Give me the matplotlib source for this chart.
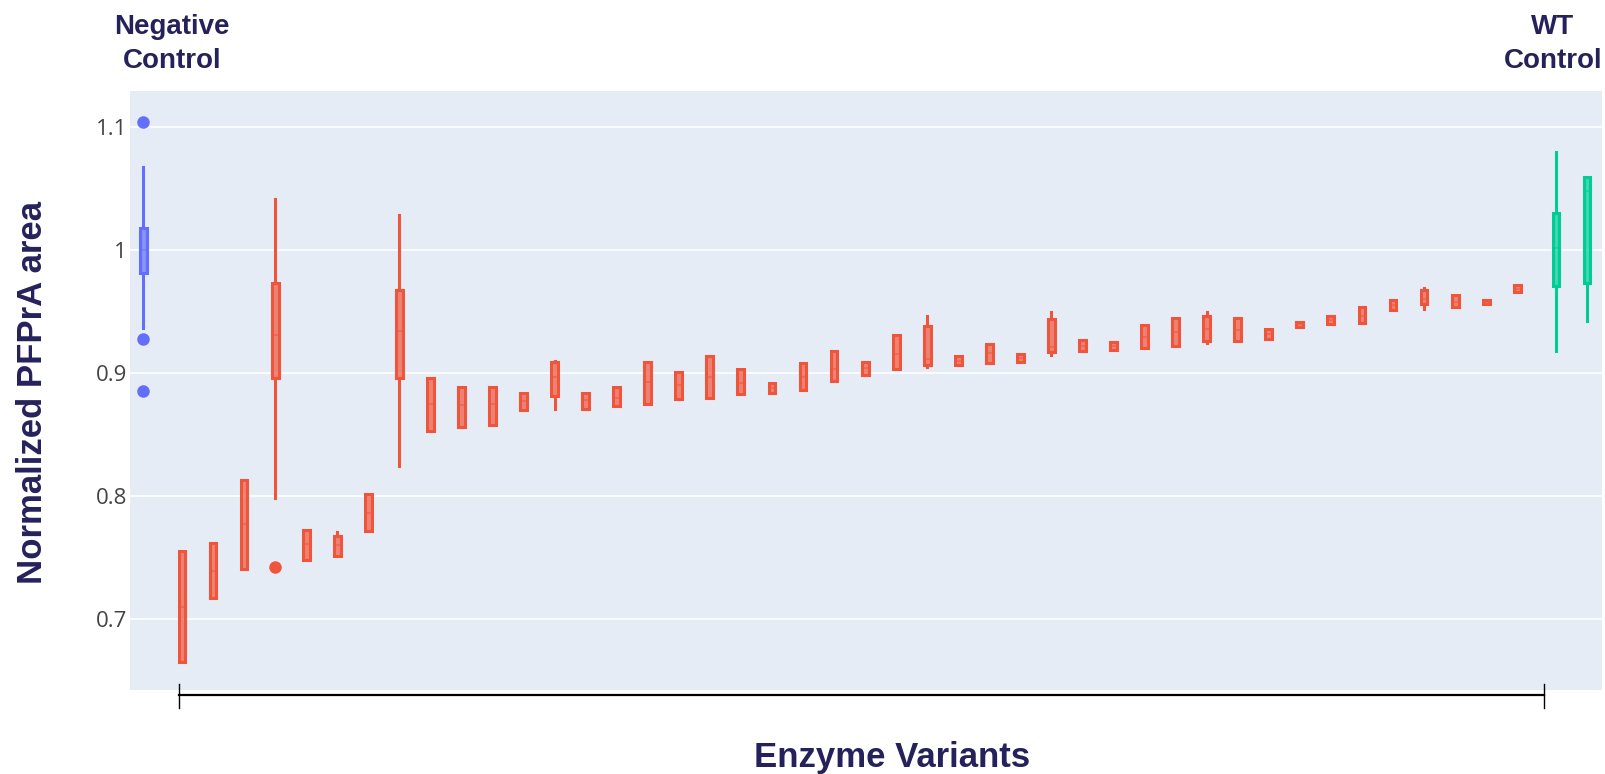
import matplotlib
matplotlib.use("Agg")
import matplotlib.pyplot as plt
import matplotlib.transforms as mtransforms
from matplotlib.colors import to_rgba

# %% data
neg_lo, neg_q1, neg_med, neg_q3, neg_hi = 0.9365, 0.981, 1.0, 1.0176, 1.0676
neg_fliers = [1.104, 0.928, 0.885]

red_q1 = [0.6651, 0.717, 0.741, 0.896, 0.748, 0.7516, 0.772, 0.896, 0.8527, 0.856,
          0.858, 0.870, 0.881, 0.871, 0.873, 0.875, 0.879, 0.880, 0.8826, 0.884,
          0.8866, 0.8935, 0.898, 0.9035, 0.9068, 0.9063, 0.9082, 0.909, 0.917, 0.918,
          0.919, 0.9207, 0.9223, 0.926, 0.926, 0.928, 0.9377, 0.9396, 0.9404, 0.9514,
          0.956, 0.9533, 0.9557, 0.9656]
red_med = [0.7103, 0.7395, 0.7773, 0.931, 0.761, 0.760, 0.7865, 0.934, 0.8746, 0.874,
           0.875, 0.877, 0.897, 0.878, 0.880, 0.893, 0.890, 0.897, 0.892, 0.888,
           0.897, 0.903, 0.904, 0.9156, 0.911, 0.910, 0.916, 0.912, 0.921, 0.922,
           0.922, 0.9293, 0.9334, 0.936, 0.935, 0.932, 0.9396, 0.943, 0.9467, 0.9555,
           0.960, 0.958, 0.9577, 0.968]
red_q3 = [0.7557, 0.7622, 0.813, 0.973, 0.7724, 0.7678, 0.8014, 0.9676, 0.896, 0.889,
          0.889, 0.884, 0.909, 0.884, 0.889, 0.909, 0.9005, 0.914, 0.9035, 0.892,
          0.908, 0.918, 0.909, 0.9306, 0.938, 0.9136, 0.9239, 0.9158, 0.9435, 0.9272,
          0.9253, 0.9386, 0.9448, 0.9462, 0.9443, 0.9355, 0.9415, 0.9464, 0.9533, 0.9596,
          0.9672, 0.9637, 0.9596, 0.9713]
red_lo = [0.6651, 0.717, 0.741, 0.7986, 0.748, 0.7516, 0.772, 0.8243, 0.8527, 0.856,
          0.858, 0.870, 0.871, 0.871, 0.873, 0.875, 0.879, 0.880, 0.8826, 0.884,
          0.8866, 0.8935, 0.898, 0.9035, 0.905, 0.9063, 0.9082, 0.909, 0.915, 0.918,
          0.919, 0.9207, 0.9223, 0.9245, 0.926, 0.928, 0.9377, 0.9396, 0.9404, 0.9514,
          0.9522, 0.9533, 0.9557, 0.9656]
red_hi = [0.7557, 0.7622, 0.813, 1.0414, 0.7724, 0.771, 0.8014, 1.0284, 0.896, 0.889,
          0.889, 0.884, 0.910, 0.884, 0.889, 0.909, 0.9005, 0.914, 0.9035, 0.892,
          0.908, 0.918, 0.909, 0.9306, 0.946, 0.9136, 0.9239, 0.9158, 0.9497, 0.9272,
          0.9253, 0.9386, 0.9448, 0.9497, 0.9443, 0.9355, 0.9415, 0.9464, 0.9533, 0.9596,
          0.9691, 0.9637, 0.9596, 0.9713]
red_fliers = {4: [0.7427]}

wt_lo = [0.918, 0.9423]
wt_q1 = [0.9705, 0.9727]
wt_med = [1.0014, 1.048]
wt_q3 = [1.030, 1.0593]
wt_hi = [1.0792, 1.0593]

y_ticks = [0.7, 0.8, 0.9, 1.0, 1.1]
y_labels = ["0.7", "0.8", "0.9", "1", "1.1"]

# %% style
BLUE, RED, GREEN = "#636EFA", "#EF553B", "#00CC96"
NAVY = "#25215B"
plt.rcParams["font.family"] = ["Liberation Sans", "DejaVu Sans"]

fig = plt.figure(figsize=(16.06, 7.74), dpi=100)
ax = fig.add_axes([0.0809, 0.1085, 0.9164, 0.7733])
ax.set_facecolor("#E5ECF6")


def draw(stats, positions, color):
    ax.bxp(stats, positions=positions, widths=0.22, patch_artist=True,
           showcaps=False, manage_ticks=False,
           boxprops=dict(facecolor=to_rgba(color, 0.7), edgecolor=color, linewidth=2.2),
           medianprops=dict(color=color, linewidth=1.2, alpha=0.6),
           whiskerprops=dict(color=color, linewidth=2.2),
           flierprops=dict(marker="o", markerfacecolor=color, markeredgecolor="none",
                           markersize=9))


# negative control (offset left in its group slot)
draw([dict(whislo=neg_lo, q1=neg_q1, med=neg_med, q3=neg_q3, whishi=neg_hi,
           fliers=neg_fliers)], [-0.25], BLUE)

# enzyme variants
red_stats = []
for i in range(len(red_q1)):
    red_stats.append(dict(whislo=red_lo[i], q1=red_q1[i], med=red_med[i], q3=red_q3[i],
                          whishi=red_hi[i], fliers=red_fliers.get(i + 1, [])))
draw(red_stats, list(range(1, len(red_q1) + 1)), RED)

# WT controls (offset right)
wt_stats = [dict(whislo=wt_lo[i], q1=wt_q1[i], med=wt_med[i], q3=wt_q3[i],
                 whishi=wt_hi[i], fliers=[]) for i in range(len(wt_q1))]
draw(wt_stats, [len(red_q1) + 1.25, len(red_q1) + 2.25], GREEN)

ax.set_xlim(-0.675, 46.72)
ax.set_ylim(0.6426, 1.1286)
ax.set_xticks([])
ax.set_yticks(y_ticks)
ax.set_yticklabels(y_labels)
ax.tick_params(axis="y", length=0, pad=2, labelsize=16, labelcolor="#444444")
for lab in ax.get_yticklabels():
    lab.set_family(["Open Sans", "DejaVu Sans"])
ax.grid(axis="y", color="white", linewidth=1.2)
ax.set_axisbelow(True)
for s in ax.spines.values():
    s.set_visible(False)

# bracket under the variants
trans = mtransforms.blended_transform_factory(ax.transData, ax.transAxes)
bx = [0.9, 44.86]
ax.plot(bx, [-0.0084, -0.0084], color="black", lw=1.6, transform=trans, clip_on=False)
for x in bx:
    ax.plot([x, x], [0.01, -0.03], color="black", lw=1.0, transform=trans, clip_on=False)

# labels
fig.text(171.7 / 1606, 1 - 44 / 774, "Negative\nControl", ha="center", va="center",
         fontsize=20, fontweight="bold", color=NAVY, linespacing=1.4)
fig.text(1553 / 1606, 1 - 44 / 774, "WT\nControl", ha="center", va="center",
         fontsize=20, fontweight="bold", color=NAVY, linespacing=1.4)
fig.text(892.5 / 1606, 1 - 758 / 774, "Enzyme Variants", ha="center", va="center",
         fontsize=25, fontweight="bold", color=NAVY)
fig.text(33 / 1606, 1 - 392.5 / 774, "Normalized PFPrA area", ha="center", va="center",
         rotation=90, fontsize=25, fontweight="bold", color=NAVY)

fig.savefig("out.png", dpi=100, facecolor="white")
